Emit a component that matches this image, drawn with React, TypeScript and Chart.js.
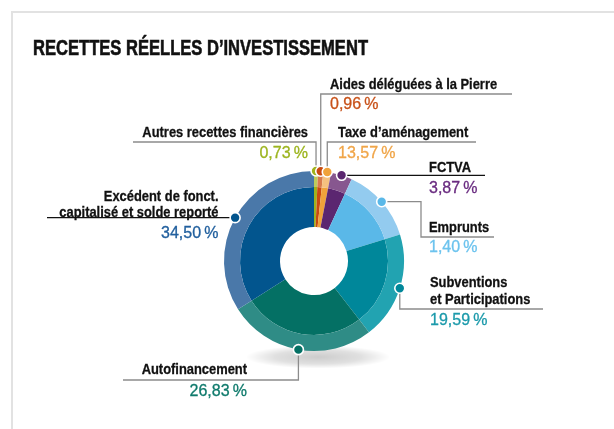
import React, { useEffect, useRef } from "react";
import { Chart, registerables } from "chart.js";

Chart.register(...registerables);

// ---- data ----
const title = "RECETTES RÉELLES D’INVESTISSEMENT";
const categories = [
  "Autres recettes financières",
  "Aides déléguées à la Pierre",
  "Taxe d’aménagement",
  "FCTVA",
  "Emprunts",
  "Subventions et Participations",
  "Autofinancement",
  "Excédent de fonct. capitalisé et solde reporté",
];
// slice sizes as drawn (clockwise from 12 o'clock)
const sliceValues = [0.73, 0.96, 1.4, 3.87, 13.57, 19.59, 26.83, 34.5];
// percentages as printed next to each label
const percentLabels = ["0,73", "0,96", "13,57", "3,87", "1,40", "19,59", "26,83", "34,50"];
// label text lines
const labelLines = [
  ["Autres recettes financières"],
  ["Aides déléguées à la Pierre"],
  ["Taxe d’aménagement"],
  ["FCTVA"],
  ["Emprunts"],
  ["Subventions", "et Participations"],
  ["Autofinancement"],
  ["Excédent de fonct.", "capitalisé et solde reporté"],
];

// ---- styles ----
const innerColors = ["#a0b21c", "#c84a10", "#f0a23a", "#5b2670", "#5ab8e8", "#00879a", "#047064", "#02558e"];
const outerColors = ["#bccb5a", "#d87a4c", "#f5c07f", "#87578f", "#93cbef", "#22a3b1", "#2f8c86", "#4a78a9"];
const textColors = ["#9cb41e", "#c8521a", "#f0a548", "#6a2c80", "#6cc3ee", "#1c9aab", "#0f7a6c", "#22609e"];

const LABEL_FONT = "bold 15px 'Liberation Sans', Arial, sans-serif";
const LABEL_SCALE = 0.86;
const TITLE_FONT = "bold 21.5px 'Liberation Sans', Arial, sans-serif";
const TITLE_WIDTH = 335;
const PCT_FONT = "16px 'Liberation Sans', Arial, sans-serif";
const GRAY = "#8c8c8c";
const DARK = "#111111";

type Layout = {
  align: "left" | "right";
  tx: number;
  lineY: number[];
  pctY: number;
  path: (dx: number, dy: number) => number[][];
  lineColor: string;
};

const layouts: Layout[] = [
  { align: "right", tx: 308, lineY: [136.5], pctY: 158, lineColor: GRAY,
    path: (dx, dy) => [[dx, dy], [dx, 142], [133, 142]] },
  { align: "left", tx: 330, lineY: [88.5], pctY: 109, lineColor: GRAY,
    path: (dx, dy) => [[dx, dy], [dx, 94], [512, 94]] },
  { align: "left", tx: 338, lineY: [136.5], pctY: 158, lineColor: GRAY,
    path: (dx, dy) => [[dx, dy], [dx, 142], [476, 142]] },
  { align: "left", tx: 429, lineY: [171.5], pctY: 193, lineColor: DARK,
    path: (dx, dy) => [[dx, dy], [485, dy]] },
  { align: "left", tx: 429, lineY: [231.5], pctY: 251.5, lineColor: GRAY,
    path: (dx, dy) => [[dx, dy], [421, dy], [421, 237], [494, 237]] },
  { align: "left", tx: 430, lineY: [287, 304], pctY: 325, lineColor: GRAY,
    path: (dx, dy) => [[dx, dy], [dx, 309], [543, 309]] },
  { align: "right", tx: 247, lineY: [374], pctY: 396, lineColor: GRAY,
    path: (dx, dy) => [[dx, dy], [dx, 380], [123, 380]] },
  { align: "right", tx: 218.5, lineY: [201, 216.5], pctY: 238, lineColor: DARK,
    path: (dx, dy) => [[dx, dy], [47, dy]] },
];

function condensedText(ctx: CanvasRenderingContext2D, text: string, x: number, y: number, sx: number, stroke: number) {
  ctx.save();
  ctx.translate(x, y);
  ctx.scale(sx, 1);
  ctx.fillText(text, 0, 0);
  if (stroke > 0) {
    ctx.lineWidth = stroke;
    ctx.strokeStyle = ctx.fillStyle as string;
    ctx.strokeText(text, 0, 0);
  }
  ctx.restore();
}

const backgroundPlugin = {
  id: "bgdecor",
  beforeDatasetsDraw(chart: any) {
    const ctx = chart.ctx as CanvasRenderingContext2D;
    ctx.save();
    ctx.strokeStyle = "#e2e2e2";
    ctx.lineWidth = 2;
    ctx.beginPath();
    ctx.moveTo(12, 429);
    ctx.lineTo(12, 12);
    ctx.lineTo(614, 12);
    ctx.stroke();
    const meta = chart.getDatasetMeta(0);
    const arc = meta.data[0];
    const cx = arc.x + 4;
    const cy = arc.y + 96;
    ctx.translate(cx, cy);
    ctx.scale(1, 0.16);
    const g = ctx.createRadialGradient(0, 0, 0, 0, 0, 72);
    g.addColorStop(0, "rgba(0,0,0,0.2)");
    g.addColorStop(0.6, "rgba(0,0,0,0.12)");
    g.addColorStop(1, "rgba(0,0,0,0)");
    ctx.fillStyle = g;
    ctx.beginPath();
    ctx.arc(0, 0, 72, 0, Math.PI * 2);
    ctx.fill();
    ctx.restore();
  },
};

const labelPlugin = {
  id: "labels",
  afterDatasetsDraw(chart: any) {
    const ctx = chart.ctx as CanvasRenderingContext2D;
    const meta = chart.getDatasetMeta(0);
    ctx.save();
    ctx.textBaseline = "alphabetic";
    ctx.fillStyle = DARK;
    ctx.font = TITLE_FONT;
    ctx.textAlign = "left";
    const tw = ctx.measureText(title).width;
    condensedText(ctx, title, 33, 55, TITLE_WIDTH / tw, 0.6);

    const dots: number[][] = [];
    meta.data.forEach((el: any, i: number) => {
      const { x, y, startAngle, endAngle, outerRadius } = el.getProps(
        ["x", "y", "startAngle", "endAngle", "outerRadius"], true
      );
      const mid = (startAngle + endAngle) / 2;
      const dx = x + Math.cos(mid) * outerRadius;
      const dy = y + Math.sin(mid) * outerRadius;
      dots.push([dx, dy]);
      const L = layouts[i];
      const pts = L.path(dx, dy);
      ctx.strokeStyle = L.lineColor;
      ctx.lineWidth = 1.3;
      ctx.beginPath();
      pts.forEach((p, k) => (k === 0 ? ctx.moveTo(p[0], p[1]) : ctx.lineTo(p[0], p[1])));
      ctx.stroke();
      ctx.textAlign = L.align;
      ctx.fillStyle = DARK;
      ctx.font = LABEL_FONT;
      labelLines[i].forEach((t, k) => condensedText(ctx, t, L.tx, L.lineY[k], LABEL_SCALE, 0.3));
      ctx.fillStyle = textColors[i];
      ctx.font = PCT_FONT;
      condensedText(ctx, percentLabels[i] + "\u2009%", L.tx, L.pctY, 1, 0.3);
    });
    dots.forEach((d, i) => {
      ctx.beginPath();
      ctx.arc(d[0], d[1], 5, 0, Math.PI * 2);
      ctx.fillStyle = innerColors[i];
      ctx.fill();
      ctx.lineWidth = 1.6;
      ctx.strokeStyle = "#ffffff";
      ctx.stroke();
    });
    ctx.restore();
  },
};

export default function App() {
  const ref = useRef<HTMLCanvasElement>(null);
  useEffect(() => {
    if (!ref.current) return;
    const chart = new Chart(ref.current, {
      type: "doughnut",
      data: {
        labels: categories,
        datasets: [
          { data: sliceValues, backgroundColor: outerColors, borderWidth: 0, weight: 16 },
          { data: sliceValues, backgroundColor: innerColors, borderWidth: 0, weight: 40 },
        ],
      },
      options: {
        responsive: false,
        animation: false,
        cutout: 34,
        layout: { padding: { left: 224, right: 210, top: 171, bottom: 78 } },
        plugins: { legend: { display: false }, tooltip: { enabled: false }, title: { display: false } },
        events: [],
      },
      plugins: [backgroundPlugin, labelPlugin],
    } as any);
    return () => chart.destroy();
  }, []);
  return (
    <div style={{ position: "fixed", left: 0, top: 0, width: 614, height: 429, background: "#fff" }}>
      <canvas ref={ref} width={614} height={429} style={{ width: 614, height: 429, display: "block" }} />
    </div>
  );
}
